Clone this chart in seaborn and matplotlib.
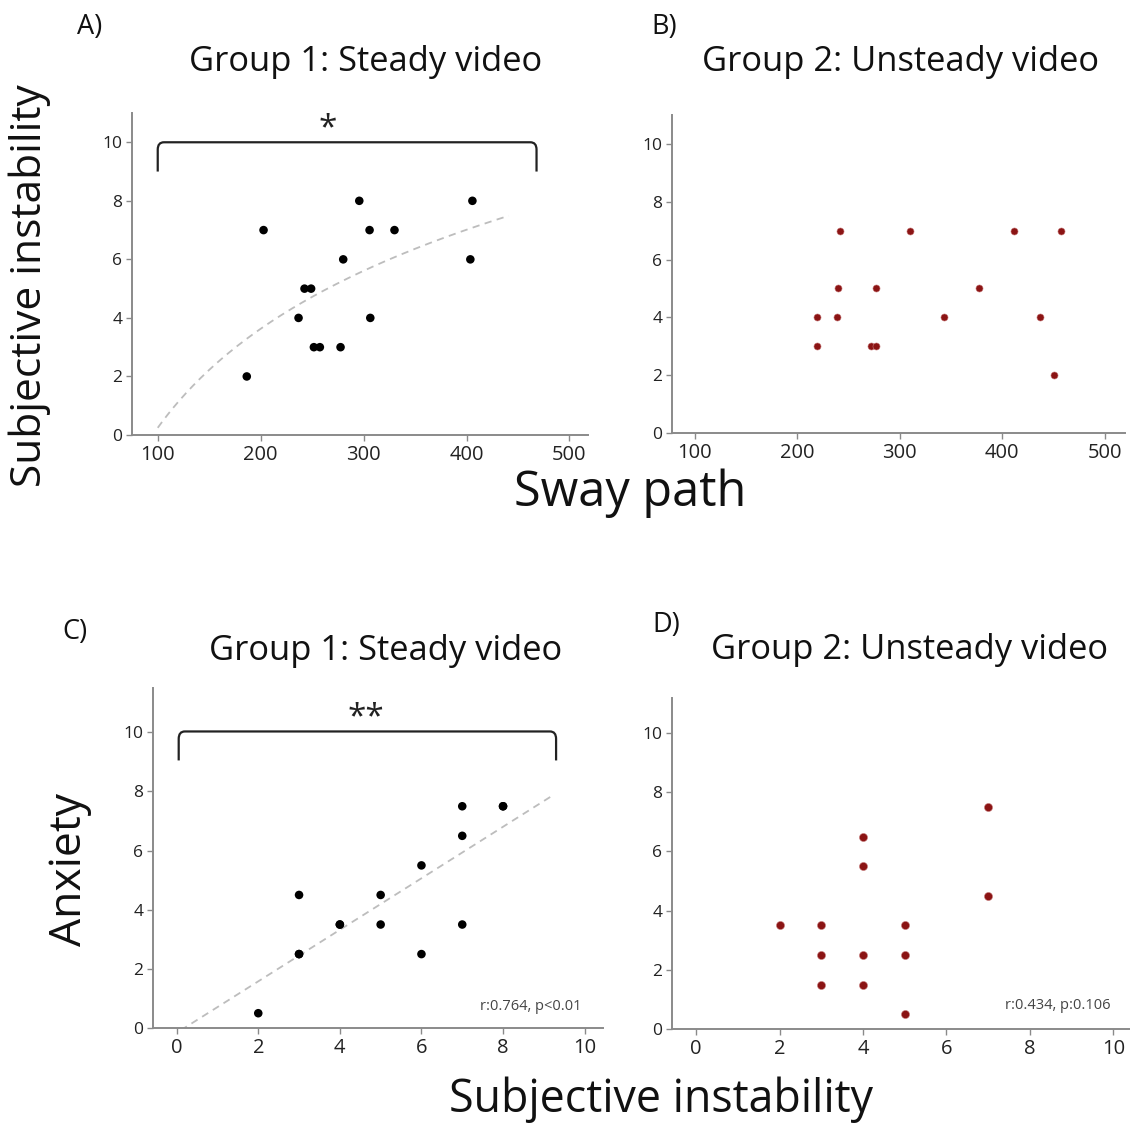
import numpy as np
import pandas as pd
import matplotlib
matplotlib.use("Agg")
import matplotlib.pyplot as plt
from matplotlib.path import Path
from matplotlib.patches import PathPatch
import seaborn as sns

# ---- data -------------------------------------------------------------
# Group 1 (steady video): sway path vs. subjective instability
g1_sway = [186.5, 202.8, 236.8, 242.6, 249.0, 251.7, 257.5, 277.6,
           280.2, 295.8, 305.8, 306.5, 330.0, 403.7, 405.7]
g1_instab = [2, 7, 4, 5, 5, 3, 3, 3, 6, 8, 7, 4, 7, 6, 8]

# Group 2 (unsteady video): sway path vs. subjective instability
g2_sway = [219.7, 219.7, 239.2, 239.8, 242.1, 271.7, 276.6, 276.9,
           310.4, 343.3, 377.4, 411.5, 436.6, 451.2, 457.4]
g2_instab = [3, 4, 4, 5, 7, 3, 3, 5, 7, 4, 5, 7, 4, 2, 7]

# Group 1: subjective instability vs. anxiety
g1_si = [2, 3, 3, 3, 4, 4, 5, 5, 6, 6, 7, 7, 7, 8, 8]
g1_anx = [0.5, 4.5, 2.5, 2.5, 3.5, 3.5, 4.5, 3.5, 5.5, 2.5, 7.5, 6.5, 3.5, 7.5, 7.5]

# Group 2: subjective instability vs. anxiety
g2_si = [2, 3, 3, 3, 4, 4, 4, 4, 5, 5, 5, 7, 7]
g2_anx = [3.5, 3.5, 2.5, 1.5, 6.5, 5.5, 2.5, 1.5, 3.5, 2.5, 0.5, 7.5, 4.5]

stats_g1 = "r:0.764, p<0.01"
stats_g2 = "r:0.434, p:0.106"

sway_ticks = [100, 200, 300, 400, 500]
score_ticks = [0, 2, 4, 6, 8, 10]

# ---- style ------------------------------------------------------------
sns.set_theme(style="ticks")
plt.rcParams["font.family"] = ["Open Sans", "DejaVu Sans"]

BLACK = "#000000"
DARK_RED = "#8b1414"
SPINE = "#8a8a8a"
TREND = "#bdbdbd"
INK = "#111111"

W, H = 1130, 1125
fig = plt.figure(figsize=(W / 100, H / 100), dpi=100)


def px_axes(left, top, right, bottom):
    return fig.add_axes([left / W, 1 - bottom / H, (right - left) / W, (bottom - top) / H])


def px_text(x, y, s, **kw):
    kw.setdefault("ha", "center")
    kw.setdefault("va", "center")
    fig.text(x / W, 1 - y / H, s, **kw)


def style_axes(ax, xticks, xlim, ylim):
    ax.set_xlim(*xlim)
    ax.set_ylim(*ylim)
    ax.set_xticks(xticks)
    ax.set_yticks(score_ticks)
    for side in ("top", "right"):
        ax.spines[side].set_visible(False)
    for side in ("left", "bottom"):
        ax.spines[side].set_color(SPINE)
        ax.spines[side].set_linewidth(1.4)
    ax.tick_params(axis="both", colors=SPINE, labelcolor="#222222",
                   length=4, width=1.0, pad=3)
    ax.tick_params(axis="y", labelsize=12.5)
    ax.tick_params(axis="x", labelsize=14.5)
    ax.set_xlabel("")
    ax.set_ylabel("")


def bracket(ax, x0, x1, y_top, y_end, rx, ry):
    verts = [(x0, y_end), (x0, y_top - ry), (x0, y_top), (x0 + rx, y_top),
             (x1 - rx, y_top), (x1, y_top), (x1, y_top - ry), (x1, y_end)]
    codes = [Path.MOVETO, Path.LINETO, Path.CURVE3, Path.CURVE3,
             Path.LINETO, Path.CURVE3, Path.CURVE3, Path.LINETO]
    ax.add_patch(PathPatch(Path(verts, codes), fill=False, lw=1.6,
                           edgecolor="#222222", clip_on=False))


# ---- panel A ----------------------------------------------------------
axA = px_axes(132, 113, 588, 435)
dfA = pd.DataFrame({"sway": g1_sway, "instab": g1_instab})
coef = np.polyfit(np.log(dfA["sway"]), dfA["instab"], 1)
gridA = np.linspace(100, 441, 200)
sns.lineplot(x=gridA, y=np.polyval(coef, np.log(gridA)), ax=axA,
             color=TREND, lw=1.3, linestyle=(0, (4, 3)))
sns.scatterplot(data=dfA, x="sway", y="instab", ax=axA, color=BLACK,
                s=38, edgecolor="none", zorder=3)
style_axes(axA, sway_ticks, (75, 518), (0, 11))
bracket(axA, 100, 468, 10, 9, 6, 0.25)
axA.text(265, 10.45, "*", ha="center", va="center", fontsize=24, color="#222222")

# ---- panel B ----------------------------------------------------------
axB = px_axes(672, 115, 1125, 433)
dfB = pd.DataFrame({"sway": g2_sway, "instab": g2_instab})
sns.scatterplot(data=dfB, x="sway", y="instab", ax=axB, color=DARK_RED,
                s=26, edgecolor="#c98080", linewidth=0.4, zorder=3)
style_axes(axB, sway_ticks, (78, 520), (0, 11))

# ---- panel C ----------------------------------------------------------
axC = px_axes(153, 688, 603, 1028)
dfC = pd.DataFrame({"si": g1_si, "anx": g1_anx})
lin = np.polyfit(dfC["si"], dfC["anx"], 1)
gridC = np.linspace(0.1, 9.2, 100)
sns.lineplot(x=gridC, y=np.polyval(lin, gridC), ax=axC,
             color=TREND, lw=1.3, linestyle=(0, (4, 3)))
sns.scatterplot(data=dfC, x="si", y="anx", ax=axC, color=BLACK,
                s=38, edgecolor="none", zorder=3)
style_axes(axC, score_ticks, (-0.58, 10.45), (0, 11.5))
bracket(axC, 0.05, 9.3, 10.03, 9.05, 0.15, 0.25)
axC.text(4.63, 10.5, "**", ha="center", va="center", fontsize=24, color="#222222")
axC.text(9.93, 0.72, stats_g1, ha="right", va="center", fontsize=10.5, color="#444444")

# ---- panel D ----------------------------------------------------------
axD = px_axes(672, 698, 1130, 1029)
dfD = pd.DataFrame({"si": g2_si, "anx": g2_anx})
sns.scatterplot(data=dfD, x="si", y="anx", ax=axD, color=DARK_RED,
                s=34, edgecolor="#c98080", linewidth=0.4, zorder=3)
style_axes(axD, score_ticks, (-0.58, 10.4), (0, 11.18))
axD.text(9.93, 0.78, stats_g2, ha="right", va="center", fontsize=10.5, color="#444444")

# ---- titles, panel letters and shared labels ---------------------------
title_kw = dict(fontsize=24.8, color=INK)
px_text(366, 62, "Group 1: Steady video", **title_kw)
px_text(901, 62, "Group 2: Unsteady video", **title_kw)
px_text(386, 651, "Group 1: Steady video", **title_kw)
px_text(909, 650, "Group 2: Unsteady video", **title_kw)

letter_kw = dict(fontsize=19.5, color=INK, ha="left")
px_text(77, 27, "A)", **letter_kw)
px_text(651, 27, "B)", **letter_kw)
px_text(62, 632, "C)", **letter_kw)
px_text(652, 625, "D)", **letter_kw)

px_text(30, 286, "Subjective instability", fontsize=30.6, rotation=90, color=INK)
px_text(630, 493, "Sway path", fontsize=35, color=INK)
px_text(70, 870, "Anxiety", fontsize=32, rotation=90, color=INK)
px_text(661, 1100, "Subjective instability", fontsize=32.2, color=INK)

fig.savefig("out.png", dpi=100, facecolor="white")
